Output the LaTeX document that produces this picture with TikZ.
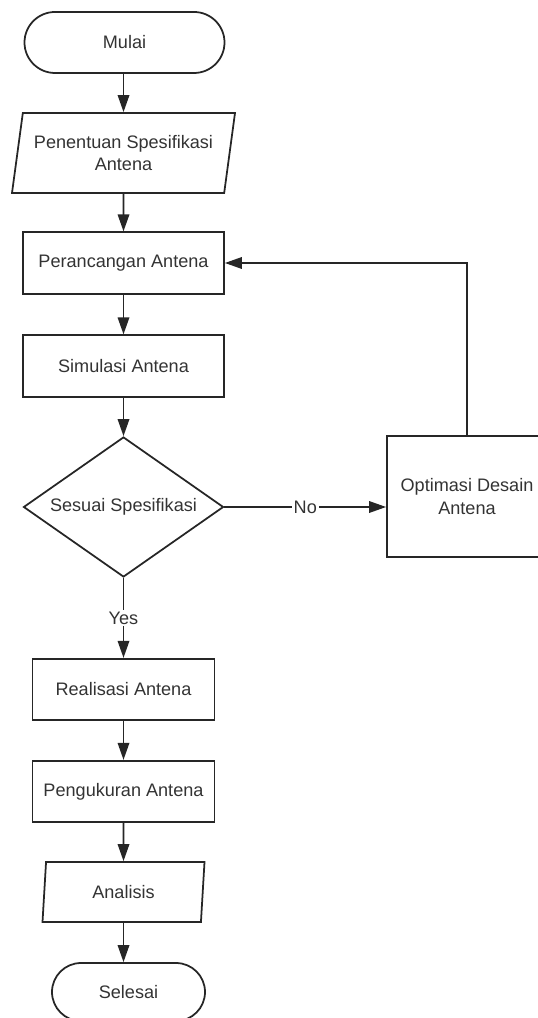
\documentclass[tikz,border=0pt]{standalone}
\usepackage{fontspec}
\setmainfont{Liberation Sans}
\usetikzlibrary{shapes.geometric,arrows.meta}
\begin{document}
\begin{tikzpicture}[x=0.2mm, y=0.2mm]
\tikzstyle{every node}+=[inner sep=0pt, font=\fontsize{10.3}{12.6}\selectfont, text=black!80, align=center]
\tikzstyle{line}=[draw=black!85, line width=1pt]
\tikzstyle{arrow}=[line, -{Triangle[length=3.4mm,width=2.3mm]}]
\tikzstyle{terminal}=[line, rectangle, rounded corners=6.1mm, minimum width=40mm, minimum height=12.2mm]
\tikzstyle{io}=[line, trapezium, trapezium left angle=73, trapezium right angle=107, trapezium stretches body, minimum width=44.6mm, minimum height=16mm]
\tikzstyle{process}=[line, rectangle, minimum width=40.2mm, minimum height=12.3mm]
\tikzstyle{decision}=[line, diamond, aspect=1.43, minimum width=40mm, minimum height=28mm]
\tikzstyle{answer}=[fill=white, inner sep=1pt]
\useasboundingbox (0,0) rectangle (538,-1018);
% main column
\node [terminal] (mulai) at (124.5,-42.5) {Mulai};
\node [io] (spesifikasi) at (123.5,-153) {Penentuan Spesifikasi\\Antena};
\node [process] (perancangan) at (123.5,-263) {Perancangan Antena};
\node [process] (simulasi) at (123.5,-366) {Simulasi Antena};
\node [decision] (sesuai) at (123.5,-507) {Sesuai Spesifikasi};
\node [process, minimum width=36.4mm] (realisasi) at (123.5,-689.5) {Realisasi Antena};
\node [process, minimum width=36.4mm] (pengukuran) at (123.5,-791.5) {Pengukuran Antena};
\node [io, trapezium left angle=75, trapezium right angle=105, minimum width=32.4mm, minimum height=12mm] (analisis) at (123.5,-892) {Analisis};
\node [terminal, minimum width=30.6mm, minimum height=11.6mm, rounded corners=5.8mm] (selesai) at (128.5,-992) {Selesai};
% loop
\node [process, minimum width=32mm, minimum height=24.2mm] (optimasi) at (467,-496.5) {Optimasi Desain\\Antena};
\draw [arrow] (spesifikasi.north |- mulai.south) -- (spesifikasi.north);
\draw [arrow] (spesifikasi.south) -- (perancangan.north);
\draw [arrow] (perancangan.south) -- (simulasi.north);
\draw [arrow] (simulasi.south) -- (sesuai.north);
\draw [arrow] (sesuai.south) -- node [answer] {Yes} (realisasi.north);
\draw [arrow] (realisasi.south) -- (pengukuran.north);
\draw [arrow] (pengukuran.south) -- (analisis.south |- analisis.north);
\draw [arrow] (analisis.south) -- (analisis.south |- selesai.north);
\draw [arrow] (sesuai.east) -- node [answer] {No} (optimasi.west |- sesuai.east);
\draw [arrow] (optimasi.north) |- (perancangan.east);
\end{tikzpicture}
\end{document}
